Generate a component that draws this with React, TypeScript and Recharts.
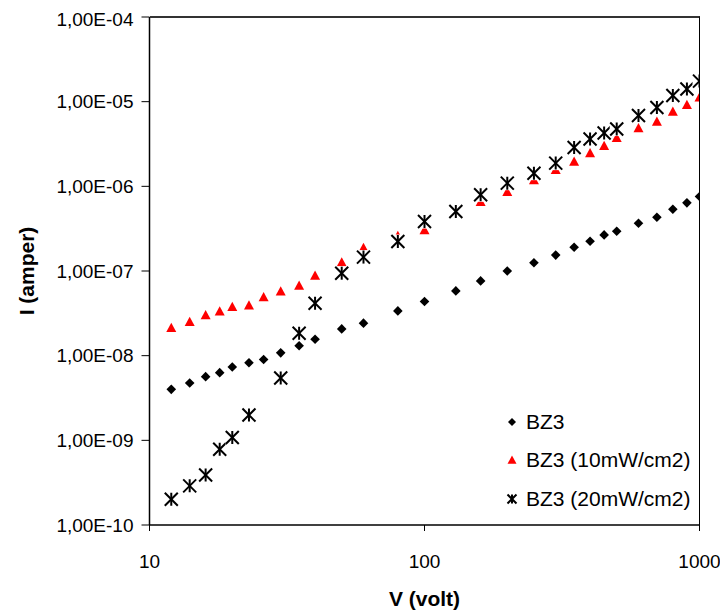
import React from "react";
import { ScatterChart, Scatter, XAxis, YAxis, Legend } from "recharts";

// tension appliquée (V)
const voltage = [12, 14, 16, 18, 20, 23, 26, 30, 35, 40, 50, 60, 80, 100, 130, 160, 200, 250, 300, 350, 400, 450, 500, 600, 700, 800, 900, 1000];
const voltage20 = [12, 14, 16, 18, 20, 23, 30, 35, 40, 50, 60, 80, 100, 130, 160, 200, 250, 300, 350, 400, 450, 500, 600, 700, 800, 900, 1000];

// courant (A)
const currentDark = [4.0e-9, 4.75e-9, 5.65e-9, 6.3e-9, 7.35e-9, 8.25e-9, 9.0e-9, 1.08e-8, 1.31e-8, 1.56e-8, 2.07e-8, 2.42e-8, 3.38e-8, 4.37e-8, 5.82e-8, 7.64e-8, 1.0e-7, 1.25e-7, 1.54e-7, 1.91e-7, 2.25e-7, 2.67e-7, 2.95e-7, 3.67e-7, 4.32e-7, 5.37e-7, 6.38e-7, 7.57e-7];
const current10 = [2.14e-8, 2.52e-8, 3.03e-8, 3.35e-8, 3.77e-8, 3.94e-8, 4.94e-8, 5.77e-8, 6.72e-8, 8.82e-8, 1.27e-7, 1.88e-7, 2.6e-7, 3.06e-7, 4.86e-7, 6.56e-7, 8.61e-7, 1.19e-6, 1.57e-6, 1.96e-6, 2.47e-6, 3.01e-6, 3.74e-6, 4.88e-6, 5.83e-6, 7.66e-6, 9.18e-6, 1.13e-5];
const current20 = [2.01e-10, 2.9e-10, 3.89e-10, 7.83e-10, 1.08e-9, 1.99e-9, 5.45e-9, 1.84e-8, 4.16e-8, 9.42e-8, 1.46e-7, 2.23e-7, 3.84e-7, 5.04e-7, 7.94e-7, 1.09e-6, 1.43e-6, 1.88e-6, 2.87e-6, 3.62e-6, 4.26e-6, 4.75e-6, 6.87e-6, 8.54e-6, 1.18e-5, 1.41e-5, 1.75e-5];

const seriesNames = ["BZ3", "BZ3 (10mW/cm2)", "BZ3 (20mW/cm2)"];
const xTicks = [10, 100, 1000];
const yTicks = [1e-10, 1e-9, 1e-8, 1e-7, 1e-6, 1e-5, 1e-4];

const FONT = '"Liberation Sans", Arial, sans-serif';

const dark = voltage.map((v, i) => ({ v, i: currentDark[i] }));
const light10 = voltage.map((v, i) => ({ v, i: current10[i] }));
const light20 = voltage20.map((v, i) => ({ v, i: current20[i] }));

const formatExp = (val: number) => {
  const e = Math.round(Math.log10(val));
  return `1,00E${e < 0 ? "-" : "+"}${String(Math.abs(e)).padStart(2, "0")}`;
};

const Diamond = ({ cx, cy, r = 4.8 }: any) => (
  <polygon points={`${cx},${cy - r} ${cx + r},${cy} ${cx},${cy + r} ${cx - r},${cy}`} fill="#000" />
);

const Triangle = ({ cx, cy, r = 5 }: any) => (
  <polygon points={`${cx},${cy - r} ${cx + r},${cy + r * 0.85} ${cx - r},${cy + r * 0.85}`} fill="#ff0000" />
);

const Star = ({ cx, cy, r = 6.5, box = true }: any) => (
  <g>
    {box && <rect x={cx - r - 0.5} y={cy - r - 0.5} width={2 * r + 1} height={2 * r + 1} fill="#fff" />}
    <g stroke="#000" strokeWidth={2}>
      <line x1={cx - r} y1={cy - r} x2={cx + r} y2={cy + r} />
      <line x1={cx - r} y1={cy + r} x2={cx + r} y2={cy - r} />
      <line x1={cx} y1={cy - r} x2={cx} y2={cy + r} />
    </g>
  </g>
);

const renderLegend = () => {
  const icons = [
    <Diamond cx={8} cy={8} r={4} />,
    <Triangle cx={8} cy={8} r={4.5} />,
    <Star cx={8} cy={8} r={4.5} box={false} />,
  ];
  return (
    <div style={{ fontFamily: FONT, fontSize: 21, color: "#000" }}>
      {seriesNames.map((name, idx) => (
        <div key={name} style={{ display: "flex", alignItems: "center", height: 38.5, whiteSpace: "nowrap" }}>
          <svg width={16} height={16} style={{ marginRight: 6 }}>
            {icons[idx]}
          </svg>
          <span>{name}</span>
        </div>
      ))}
    </div>
  );
};

const App: React.FC = () => {
  const axisLine = { stroke: "#000", strokeWidth: 1.5 };
  const tickStyle = { fill: "#000", fontSize: 19, fontFamily: FONT };
  return (
    <div style={{ width: 720, height: 606, position: "relative" }}>
      <ScatterChart width={720} height={606} margin={{ top: 9, right: 28.5, bottom: 6, left: 0 }}>
        <XAxis
          dataKey="v"
          type="number"
          scale="log"
          domain={[10, 1000]}
          ticks={xTicks}
          allowDataOverflow
          height={83}
          axisLine={axisLine}
          tickLine={{ stroke: "#000" }}
          tickSize={6}
          tickMargin={24}
          tick={tickStyle}
          label={{ value: "V (volt)", position: "insideBottom", offset: 2, style: { fontFamily: FONT, fontSize: 21, fontWeight: "bold", fill: "#000" } }}
        />
        <YAxis
          dataKey="i"
          type="number"
          scale="log"
          domain={[1e-10, 1e-4]}
          ticks={yTicks}
          allowDataOverflow
          width={141.5}
          axisLine={axisLine}
          tickLine={{ stroke: "#000" }}
          tickSize={8}
          tickMargin={8}
          tick={tickStyle}
          tickFormatter={formatExp}
          label={{ value: "I (amper)", angle: -90, position: "insideLeft", offset: 19, style: { textAnchor: "middle", fontFamily: FONT, fontSize: 21, fontWeight: "bold", fill: "#000" } }}
        />
        <Scatter name={seriesNames[0]} data={dark} isAnimationActive={false} shape={(p: any) => <Diamond cx={p.cx} cy={p.cy} />} />
        <Scatter name={seriesNames[1]} data={light10} isAnimationActive={false} shape={(p: any) => <Triangle cx={p.cx} cy={p.cy} />} />
        <Scatter name={seriesNames[2]} data={light20} isAnimationActive={false} shape={(p: any) => <Star cx={p.cx} cy={p.cy} />} />
        <Legend
          layout="vertical"
          align="center"
          verticalAlign="middle"
          content={renderLegend}
          wrapperStyle={{ left: 496, top: 394.5, width: 215, height: 116 }}
        />
      </ScatterChart>
      {/* cadre haut + droite de la zone de tracé */}
      <div
        style={{
          position: "absolute",
          left: 141.5,
          top: 8,
          width: 550.75,
          height: 509,
          boxSizing: "border-box",
          borderTop: "2px solid #333",
          borderRight: "1.5px solid #000",
          pointerEvents: "none",
        }}
      />
    </div>
  );
};

export default App;
